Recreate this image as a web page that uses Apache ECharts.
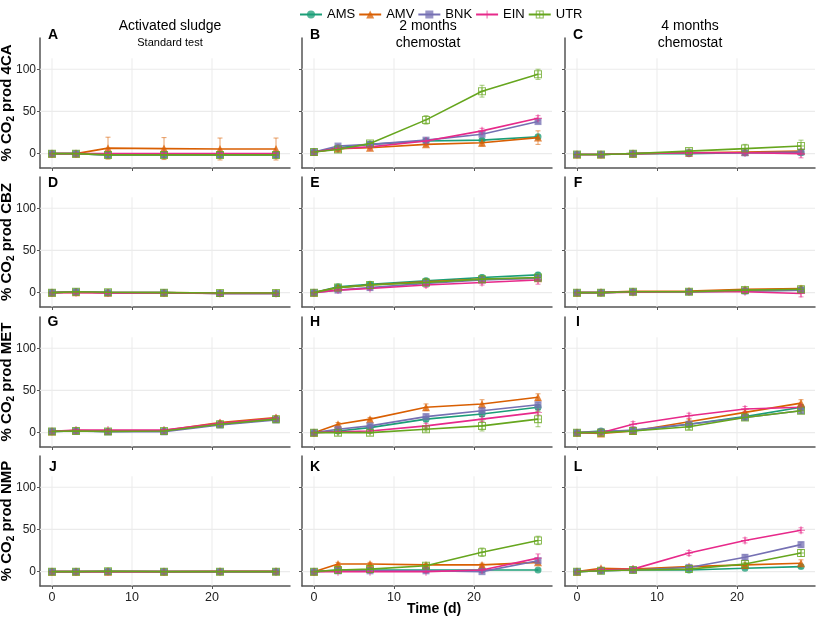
<!DOCTYPE html>
<html>
<head>
<meta charset="utf-8">
<script src="https://cdn.jsdelivr.net/npm/echarts@6/dist/echarts.min.js"></script>
<style>html,body{margin:0;padding:0;background:#fff;}#main{width:817px;height:618px;}</style>
</head>
<body>
<div id="main"></div>
<script>
// ---------- data ----------
const days = [0, 3, 7, 14, 21, 28];
const seriesNames = ['AMS', 'AMV', 'BNK', 'EIN', 'UTR'];
const seriesColors = ['#1B9E77', '#D95F02', '#7570B3', '#E7298A', '#66A61E'];
const panelLetters = ['A','B','C','D','E','F','G','H','I','J','K','L'];
const compounds = ['4CA', 'CBZ', 'MET', 'NMP'];
const columnTitles = ['Activated sludge', '2 months\nchemostat', '4 months\nchemostat'];
const columnSubtitles = ['Standard test', '', ''];
const xTickValues = [0, 10, 20];
const yTickValues = [0, 50, 100];

// values per panel: rows = AMS, AMV, BNK, EIN, UTR
const A_val = [[0,0,-1.5,-1.5,-1.5,-1.5],[0,0,6.5,6,5.5,5.5],[0,0,-1.5,-1.5,-1.5,-1.5],[0,0,0,0,0,0],[0,0,-1.5,-1.5,-1.5,-1.5]];
const A_err = [[1,1,3,3,3,3],[1,1,13,13,13,13],[1,1,3,3,3,3],[1,1,2,2,2,2],[1,1,3,3,3,3]];
const B_val = [[2,7,11,15,16,20],[2,6,7,11,13,19],[2,9,11,16,23,38],[2,6,8,15,27,42],[2,5,12,40,74,94]];
const B_err = [[1,1,1,2,2,2],[1,1,1,2,4,8],[1,1,1,2,2,2],[1,1,1,2,3,3],[1,3,2,5,7,6]];
const C_val = [[-1,-1,0,0,1,1],[-1,-1,0,1,2,3],[-1,-1,0,1,1,2],[-1,-1,0,1,1,0],[-1,-1,0,3,6,9]];
const C_err = [[1,1,1,2,2,2],[1,1,1,2,2,2],[1,1,1,2,2,2],[1,1,1,2,2,5],[1,1,1,2,5,7]];
const D_val = [[0,1,0,0,-1,-1],[0,0.5,0,0,-0.5,-0.5],[0,1,0,0,-1,-1],[0,0,-0.5,-0.5,-1,-1],[0,1,0.5,0,-0.5,-0.5]];
const D_err = [[1,1,1,1,1,1],[1,1,1,1,1,1],[1,1,1,1,1,1],[1,1,1,1,1,1],[1,1,1,1,1,1]];
const E_val = [[0,7,10,14,18,21],[0,6,9,13,16,17],[0,3,6,11,15,17],[0,3,5,9,12,15],[0,6,9,12,16,18]];
const E_err = [[1,2,2,3,3,3],[1,2,2,3,3,3],[1,2,2,3,3,3],[1,2,2,3,3,5],[1,2,2,3,3,3]];
const F_val = [[0,0,1,1,2,3],[0,0.5,1.5,2,4,5],[0,0,1,1,2,3],[0,0,0.5,1,1,-1],[0,0,1,1,3,4]];
const F_err = [[1,1,2,2,2,3],[1,1,2,2,2,3],[1,1,2,2,2,3],[1,1,2,2,2,4],[1,1,2,2,2,3]];
const G_val = [[1.5,2,1.5,2,10,16],[1.5,2.5,2,2.5,12,18],[1.5,2,1,1,9,15],[1.5,3,3,3,11,17],[1.5,2,1.5,2,10,16]];
const G_err = [[1,1,1,1,2,2],[1,1,1,1,2,2],[1,1,1,1,2,2],[1,1,1,1,2,2],[1,1,1,1,2,2]];
const H_val = [[0,2,6,16,22,30],[0,10,16,30,34,42],[0,4,8,19,26,33],[0,1,2,8,16,24],[0,0,0,4,8,16]];
const H_err = [[1,1,2,3,3,3],[1,2,2,4,5,4],[1,1,2,3,3,3],[1,1,2,3,3,3],[1,1,1,2,6,9]];
const I_val = [[0,2,2,10,19,30],[0,-1,2,13,24,35],[0,1,3,10,18,26],[0,0,10,20,28,30],[0,0,2,7,18,26]];
const I_err = [[1,1,2,3,3,3],[1,1,2,3,3,4],[1,1,2,3,3,3],[1,1,3,3,3,3],[1,1,2,3,3,3]];
const J_val = [[0,0,0.5,0,0,0],[0,0,0,0,0.5,0.5],[0,0,0,0,0,0],[0,0,0,0,0,0],[0,0,0.5,0,0,0]];
const J_err = [[1,1,1,1,1,1],[1,1,1,1,1,1],[1,1,1,1,1,1],[1,1,1,1,1,1],[1,1,1,1,1,1]];
const K_val = [[0,2,2,2,2,2],[0,9,9,8,8,11],[0,1,1,1,0,13],[0,0,0,0,2,16],[0,2,3,7,23,37]];
const K_err = [[1,1,1,1,1,1],[1,2,2,2,2,2],[1,1,1,1,1,2],[1,1,1,1,1,5],[1,1,1,2,5,5]];
const L_val = [[0,1,2,2,4,6],[0,4,3,6,8,10],[0,1,2,5,17,32],[0,2,3,22,37,49],[0,1,2,3,9,22]];
const L_err = [[1,1,1,1,1,2],[1,1,1,1,1,4],[1,1,1,2,3,3],[1,1,1,3,3,3],[1,1,1,2,2,4]];

const panelValues = [A_val,B_val,C_val,D_val,E_val,F_val,G_val,H_val,I_val,J_val,K_val,L_val];
const panelErrors = [A_err,B_err,C_err,D_err,E_err,F_err,G_err,H_err,I_err,J_err,K_err,L_err];

// ---------- layout / style ----------
const FONT = 'Liberation Sans, Arial, Helvetica, sans-serif';
const colLeft = [40, 302, 565];
const colWidth = 250;
const rowTop = [38, 177, 317, 456];
const rowHeight = 130;
const xMin = -1.5, xMax = 29.75;
const yMin = -17, yMax = 137;
const vGridTop = 113;
const axisColor = '#555555';
const gridColor = '#ebebeb';
const symbols = [
  'circle',
  'triangle',
  'rect',
  'path://M4.4,0H5.6V4.4H10V5.6H5.6V10H4.4V5.6H0V4.4H4.4Z',
  'path://M0,0H10V10H0Z M1.3,1.3V8.7H8.7V1.3Z M4.4,1.3V8.7H5.6V1.3Z M1.3,4.4V5.6H8.7V4.4Z'
];
const symbolSizes = [7, 8, 7, 8, 8];

function hexA(hex, a) {
  const r = parseInt(hex.slice(1,3),16), g = parseInt(hex.slice(3,5),16), b = parseInt(hex.slice(5,7),16);
  return 'rgba(' + r + ',' + g + ',' + b + ',' + a + ')';
}

const grids = [], xAxes = [], yAxes = [], series = [], graphics = [];
const labelY = [35, 183, 322, 467];

for (let r = 0; r < 4; r++) {
  for (let c = 0; c < 3; c++) {
    const p = r * 3 + c;
    grids.push({ left: colLeft[c], top: rowTop[r], width: colWidth, height: rowHeight, containLabel: false, outerBoundsMode: 'none' });
    xAxes.push({
      type: 'value', gridIndex: p, min: xMin, max: xMax,
      axisLine: { show: true, onZero: false, lineStyle: { color: axisColor, width: 1.5 } },
      axisTick: { show: true, length: 3, customValues: xTickValues, lineStyle: { color: axisColor, width: 1 } },
      axisLabel: { show: r === 3, customValues: xTickValues, margin: 5, fontSize: 12.5, color: '#222', fontFamily: FONT },
      splitLine: { show: false }
    });
    const yAx = {
      type: 'value', gridIndex: p, min: yMin, max: yMax,
      axisLine: { show: true, onZero: false, lineStyle: { color: axisColor, width: 1.5 } },
      axisTick: { show: true, length: 3, customValues: yTickValues, lineStyle: { color: axisColor, width: 1 } },
      axisLabel: { show: c === 0, customValues: yTickValues, margin: 4, fontSize: 12, color: '#222', fontFamily: FONT },
      splitLine: { show: false }
    };
    if (c === 0) {
      yAx.name = '{a|% CO}{b|2}{a| prod ' + compounds[r] + '}';
      yAx.nameLocation = 'middle';
      yAx.nameGap = 24;
      yAx.nameMoveOverlap = false;
      yAx.nameTextStyle = {
        rich: {
          a: { fontSize: 15, fontWeight: 'bold', color: '#000', fontFamily: FONT, padding: [0,0,2,0] },
          b: { fontSize: 10, fontWeight: 'bold', color: '#000', fontFamily: FONT, verticalAlign: 'bottom', lineHeight: 10 }
        }
      };
    }
    yAxes.push(yAx);

    // grid lines
    series.push({
      type: 'custom', name: 'vgrid', xAxisIndex: p, yAxisIndex: p, z: 1, silent: true, animation: false,
      data: xTickValues.map(v => [v, 0]), encode: { x: 0, y: 1 },
      renderItem: function (params, api) {
        const a = api.coord([api.value(0), yMin]);
        const b = api.coord([api.value(0), vGridTop]);
        return { type: 'line', shape: { x1: a[0], y1: a[1], x2: b[0], y2: b[1] }, style: { stroke: gridColor, lineWidth: 1 } };
      }
    });
    series.push({
      type: 'custom', name: 'hgrid', xAxisIndex: p, yAxisIndex: p, z: 1, silent: true, animation: false,
      data: yTickValues.map(v => [0, v]), encode: { x: 0, y: 1 },
      renderItem: function (params, api) {
        const a = api.coord([xMin, api.value(1)]);
        const b = api.coord([xMax, api.value(1)]);
        return { type: 'line', shape: { x1: a[0], y1: a[1], x2: b[0], y2: b[1] }, style: { stroke: gridColor, lineWidth: 1.2 } };
      }
    });

    for (let s = 0; s < seriesNames.length; s++) {
      const vals = panelValues[p][s];
      const errs = panelErrors[p][s];
      const col = seriesColors[s];
      series.push({
        type: 'custom', name: seriesNames[s] + ' err', xAxisIndex: p, yAxisIndex: p, z: 2, silent: true, animation: false,
        data: days.map((d, i) => [d, vals[i], errs[i]]), encode: { x: 0, y: 1 },
        renderItem: function (params, api) {
          const x = api.value(0), y = api.value(1), e = api.value(2);
          const t = api.coord([x, y + e]);
          const b = api.coord([x, y - e]);
          const w = 2.5;
          const st = { stroke: hexA(col, 0.6), lineWidth: 1 };
          return { type: 'group', children: [
            { type: 'line', shape: { x1: t[0], y1: t[1], x2: b[0], y2: b[1] }, style: st },
            { type: 'line', shape: { x1: t[0]-w, y1: t[1], x2: t[0]+w, y2: t[1] }, style: st },
            { type: 'line', shape: { x1: b[0]-w, y1: b[1], x2: b[0]+w, y2: b[1] }, style: st }
          ]};
        }
      });
      series.push({
        type: 'line', name: seriesNames[s], xAxisIndex: p, yAxisIndex: p, z: 3 + s * 0.1, animation: false,
        data: days.map((d, i) => [d, vals[i]]),
        symbol: symbols[s], symbolSize: symbolSizes[s], showSymbol: true,
        lineStyle: { color: col, width: 1.6 },
        itemStyle: { color: hexA(col, 0.75) },
        emphasis: { disabled: true }
      });
    }

    graphics.push({
      type: 'text', x: colLeft[c] + 13, y: labelY[r],
      style: { text: panelLetters[p], font: 'bold 14px ' + FONT, fill: '#000', textAlign: 'center', textVerticalAlign: 'middle' }
    });
  }
}

// column titles
const titleX = [170, 428, 690];
for (let c = 0; c < 3; c++) {
  if (columnSubtitles[c]) {
    graphics.push({ type: 'text', x: titleX[c], y: 26, style: { text: columnTitles[c], font: '14px ' + FONT, fill: '#000', textAlign: 'center', textVerticalAlign: 'middle' } });
    graphics.push({ type: 'text', x: titleX[c], y: 43, style: { text: columnSubtitles[c], font: '11px ' + FONT, fill: '#000', textAlign: 'center', textVerticalAlign: 'middle' } });
  } else {
    graphics.push({ type: 'text', x: titleX[c], y: 34.5, style: { text: columnTitles[c], font: '14px ' + FONT, lineHeight: 17, fill: '#000', textAlign: 'center', textVerticalAlign: 'middle' } });
  }
}
graphics.push({ type: 'text', x: 434, y: 609, style: { text: 'Time (d)', font: 'bold 14px ' + FONT, fill: '#000', textAlign: 'center', textVerticalAlign: 'middle' } });

const chart = echarts.init(document.getElementById('main'), null, { renderer: 'canvas' });
chart.setOption({
  backgroundColor: '#fff',
  animation: false,
  textStyle: { fontFamily: FONT },
  legend: {
    data: seriesNames, left: 294, top: 3, itemWidth: 22, itemHeight: 10, itemGap: 3,
    textStyle: { fontSize: 13, color: '#000', fontFamily: FONT }
  },
  grid: grids,
  xAxis: xAxes,
  yAxis: yAxes,
  series: series,
  graphic: graphics
});
</script>
</body>
</html>
